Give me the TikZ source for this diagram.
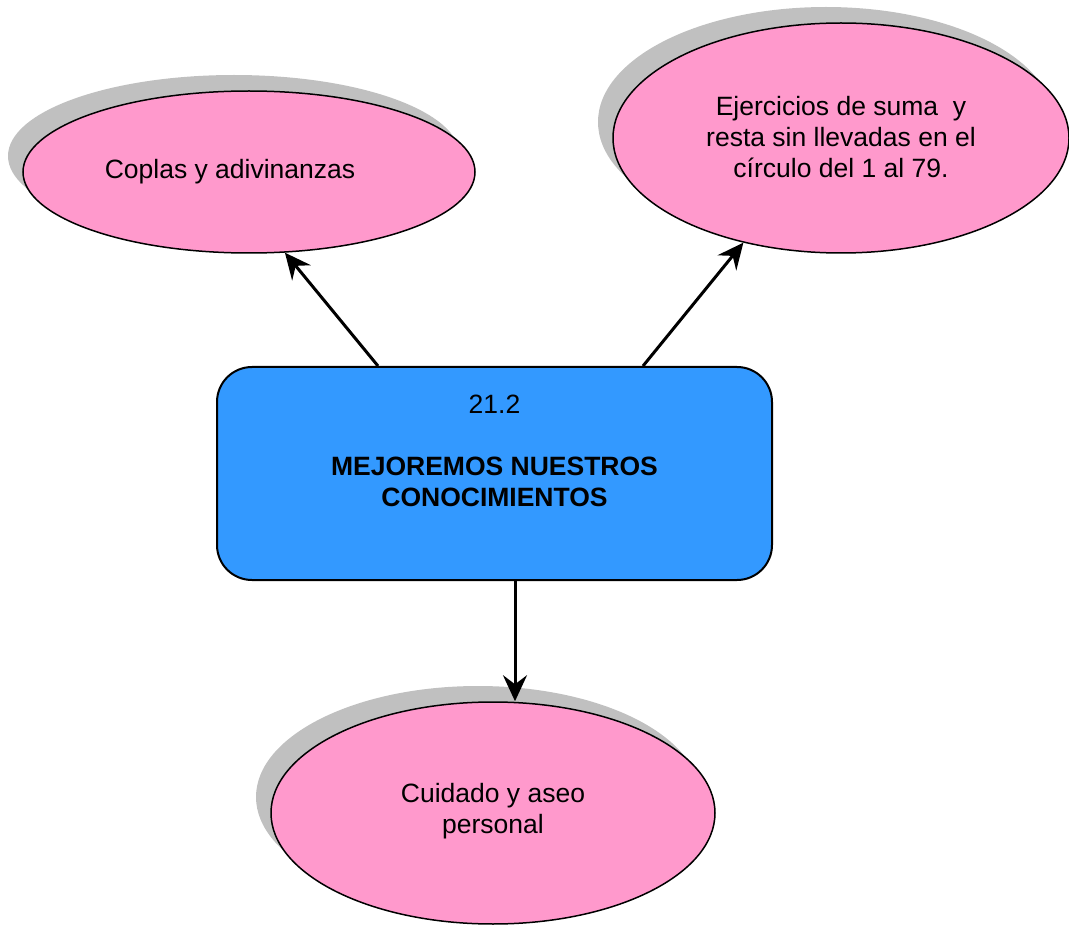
\documentclass[tikz,border=0pt]{standalone}
\usepackage{fontspec}
\setmainfont{Liberation Sans}
\usetikzlibrary{shapes.geometric,shadows,arrows.meta}

\definecolor{rosa}{HTML}{FF99CC}
\definecolor{azul}{HTML}{3399FF}
\definecolor{sombra}{HTML}{C0C0C0}

\tikzset{
  globo/.style={ellipse, draw, line width=1.5pt, fill=rosa, inner sep=0pt, align=center,
    font=\fontsize{26.5pt}{31pt}\selectfont,
    drop shadow={shadow xshift=-15pt, shadow yshift=16pt, fill=sombra, opacity=1}},
  caja/.style={rectangle, rounded corners=35pt, draw, line width=2pt, fill=azul,
    inner sep=0pt, align=center, font=\fontsize{26.5pt}{31pt}\selectfont},
  flecha/.style={line width=3pt, -{Stealth[length=26pt,width=24pt,inset=9pt]}}
}

\begin{document}
\begin{tikzpicture}[x=1pt,y=-1pt]
\useasboundingbox (0,0) rectangle (1069,925);
\node[globo, minimum width=452pt, minimum height=162pt] (coplas) at (249,172) {Coplas y adivinanzas\hspace*{38pt}};
\node[globo, minimum width=456pt, minimum height=230pt, text depth=2pt] (ejercicios) at (841,138) {Ejercicios de suma \ y\\resta sin llevadas en el\\círculo del 1 al 79.};
\node[globo, minimum width=444pt, minimum height=222pt] (cuidado) at (493,813) {Cuidado y aseo\\personal\\[-21pt]\mbox{}};
\node[caja, minimum width=555pt, minimum height=213pt] (tema) at (494.5,473.5) {21.2\\[31pt]\textbf{MEJOREMOS NUESTROS}\\\textbf{CONOCIMIENTOS}\\[14pt] \mbox{}};
\draw[flecha] (tema.north -| 378,0) -- (coplas.294);
\draw[flecha] (tema.north -| 643,0) -- (ejercicios.227.4);
\draw[flecha] (tema.south -| 515,0) -- (cuidado.north -| 515,0);
\end{tikzpicture}
\end{document}
